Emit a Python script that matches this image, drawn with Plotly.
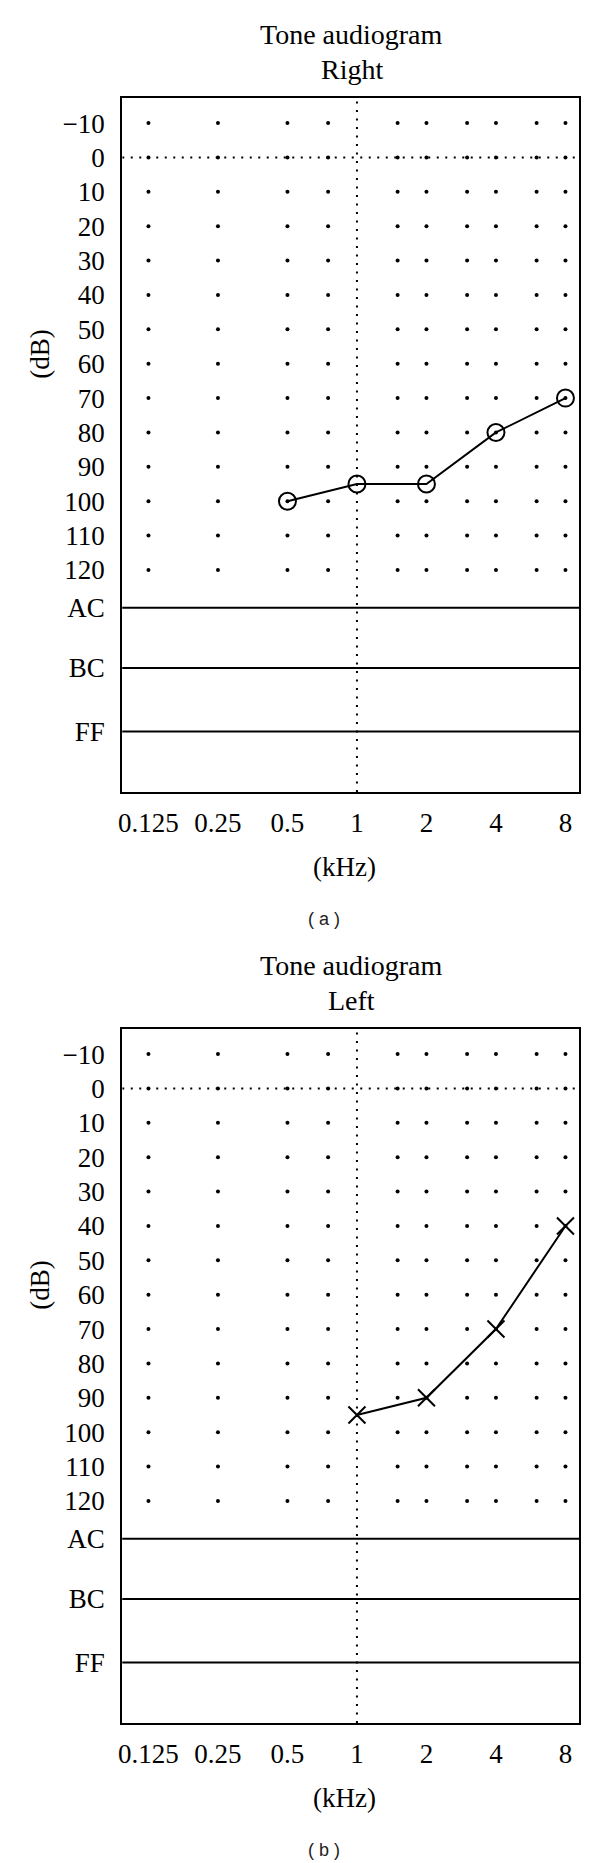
import numpy as np
import plotly.graph_objects as go

# audiogram values (kHz, dB HL)
right_khz = [0.5, 1, 2, 4, 8]
right_db = [100, 95, 95, 80, 70]
left_khz = [1, 2, 4, 8]
left_db = [95, 90, 70, 40]

freq_ticks = [0.125, 0.25, 0.5, 1, 2, 4, 8]
freq_labels = ['0.125', '0.25', '0.5', '1', '2', '4', '8']
grid_khz = [0.125, 0.25, 0.5, 0.75, 1.5, 2, 3, 4, 6, 8]
db_levels = list(range(-10, 130, 10))
row_labels = ['AC', 'BC', 'FF']
row_levels = [131, 148.5, 167]

serif = 'Liberation Serif'
xr = [-1.0166, 0.9624]
yr = [184.6, -17.3]

# page body adds an 8px margin, so work in page pixels minus 8
OFF = 8
W, H = 600 - OFF, 1863 - OFF


def xp(px):
    return (px - OFF) / W


def yp(px):
    return 1 - (px - OFF) / H


panels = [
    dict(name='Right', x=right_khz, y=right_db, sym='circle-open', size=17, top=98, cap='( a )'),
    dict(name='Left', x=left_khz, y=left_db, sym='x-thin-open', size=17, top=1029, cap='( b )'),
]

fig = go.Figure()
gx, gy = np.meshgrid(grid_khz, db_levels)
dots = dict(color='black', width=2, dash='2px,6.5px')

for i, p in enumerate(panels):
    n = '' if i == 0 else str(i + 1)
    xa, ya = 'x' + n, 'y' + n
    top = p['top']
    bot = top + 694
    # dotted reference lines
    fig.add_trace(go.Scatter(x=[1, 1], y=yr, xaxis=xa, yaxis=ya, mode='lines', line=dots,
                             showlegend=False, hoverinfo='skip'))
    fig.add_trace(go.Scatter(x=[10 ** xr[0], 10 ** xr[1]], y=[0, 0], xaxis=xa, yaxis=ya, mode='lines',
                             line=dots, showlegend=False, hoverinfo='skip'))
    # dot grid
    fig.add_trace(go.Scatter(x=gx.ravel(), y=gy.ravel(), xaxis=xa, yaxis=ya, mode='markers',
                             marker=dict(color='black', size=4), showlegend=False, hoverinfo='skip'))
    # thresholds
    fig.add_trace(go.Scatter(x=p['x'], y=p['y'], xaxis=xa, yaxis=ya, mode='lines+markers',
                             line=dict(color='black', width=2),
                             marker=dict(symbol=p['sym'], size=p['size'], color='black',
                                         line=dict(color='black', width=2)),
                             showlegend=False, name=p['name']))
    for lv in row_levels:
        fig.add_shape(type='line', xref=xa + ' domain', yref=ya, x0=0, x1=1, y0=lv, y1=lv,
                      line=dict(color='black', width=2))

    fig.update_layout({
        'xaxis' + n: dict(type='log', range=xr, domain=[xp(119), xp(579)], anchor=ya,
                          tickvals=freq_ticks, ticktext=freq_labels, showgrid=False, zeroline=False,
                          showline=True, mirror=True, linecolor='black', linewidth=2, ticks='',
                          ticklabelstandoff=6, tickfont=dict(family=serif, size=27, color='black')),
        'yaxis' + n: dict(range=yr, domain=[yp(bot), yp(top)], anchor=xa,
                          tickvals=db_levels + row_levels,
                          ticktext=[('\u221210' if v < 0 else str(v)) for v in db_levels] + row_labels,
                          showgrid=False, zeroline=False, showline=True, mirror=True,
                          linecolor='black', linewidth=2, ticks='', ticklabelstandoff=10,
                          tickfont=dict(family=serif, size=27, color='black')),
    })

    common = dict(xref='paper', yref='paper', showarrow=False, xanchor='center', yanchor='middle')
    fig.add_annotation(text='Tone audiogram', x=xp(350), y=yp(top - 63),
                       font=dict(family=serif, size=28, color='black'), **common)
    fig.add_annotation(text=p['name'], x=xp(350), y=yp(top - 28),
                       font=dict(family=serif, size=28, color='black'), **common)
    fig.add_annotation(text='(dB)', textangle=-90, x=xp(36), y=yp(top + 256),
                       font=dict(family=serif, size=27, color='black'), **common)
    fig.add_annotation(text='(kHz)', x=xp(343), y=yp(top + 769),
                       font=dict(family=serif, size=27, color='black'), **common)
    fig.add_annotation(text=p['cap'], x=xp(322), y=yp(top + 821),
                       font=dict(family='Liberation Sans', size=18, color='#222'), **common)

fig.update_layout(width=W, height=H, margin=dict(l=0, r=0, t=0, b=0),
                  plot_bgcolor='white', paper_bgcolor='white')

fig.write_html('out.html')
